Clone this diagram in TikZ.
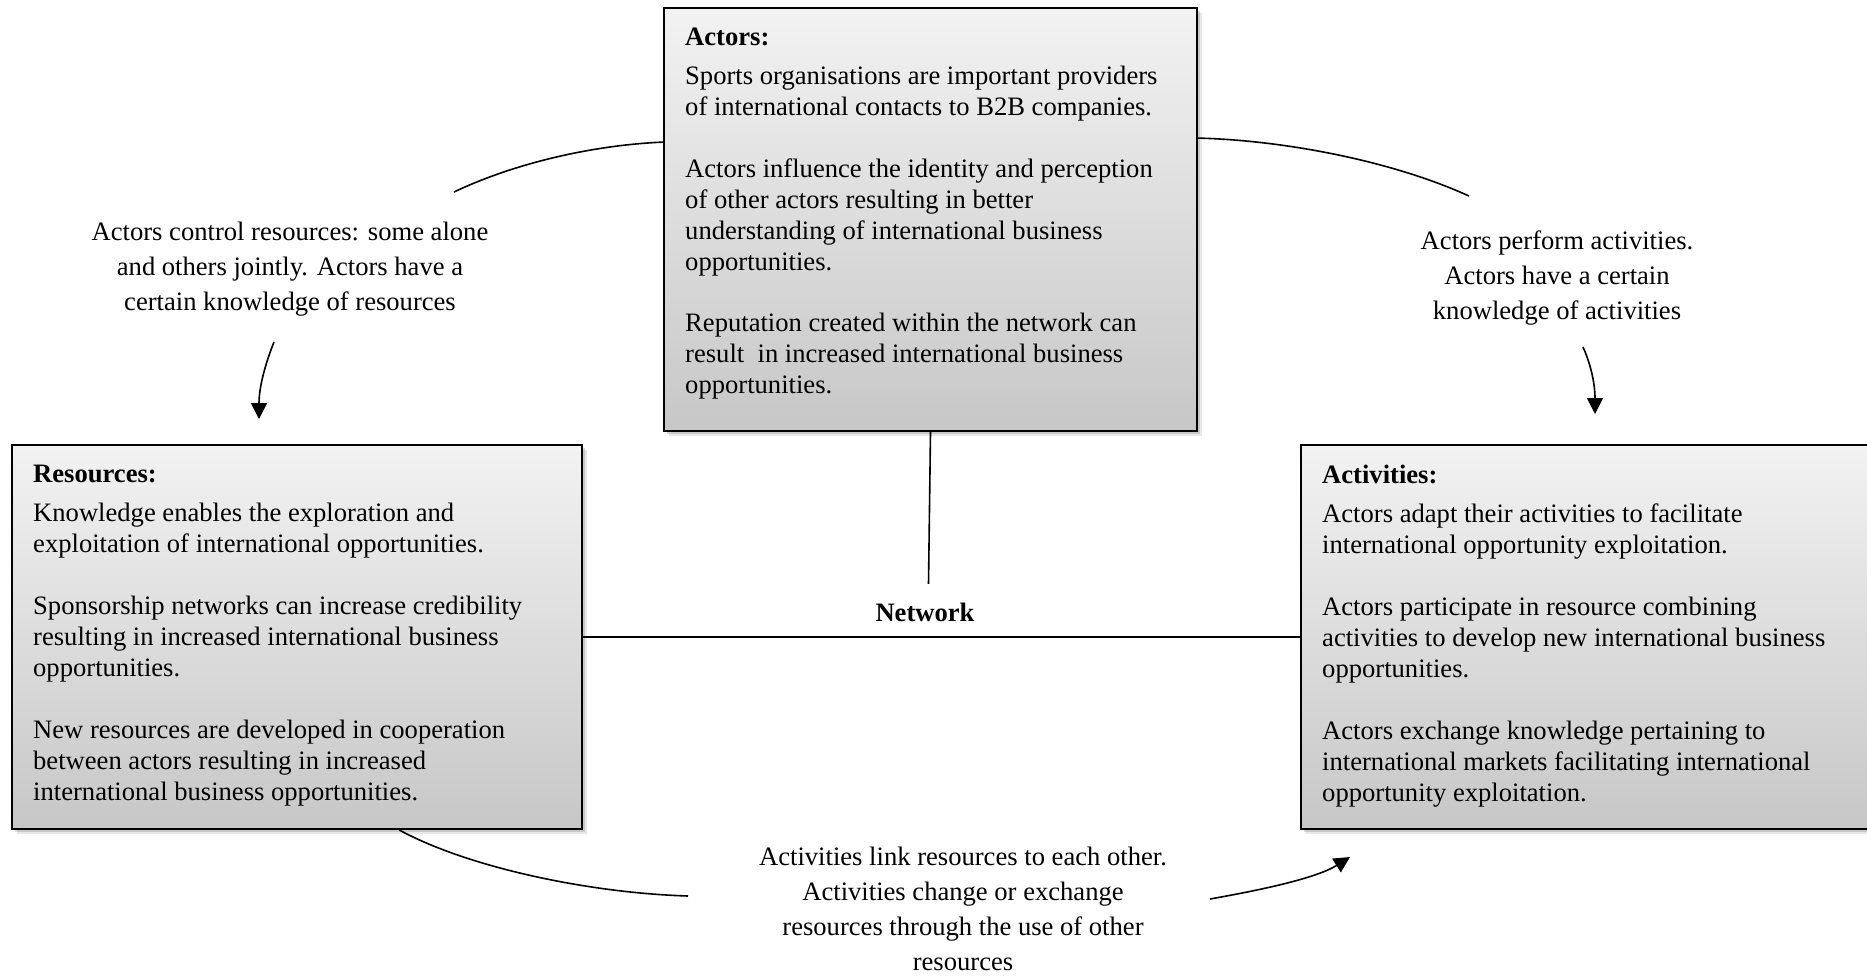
\documentclass[tikz,border=0pt]{standalone}
\usepackage{fontspec}
\setmainfont{Liberation Serif}
\usetikzlibrary{arrows.meta,shadows,calc}

\begin{document}
\begin{tikzpicture}[x=1bp,y=-1bp,
  panel/.style={rectangle, draw=black, line width=1.8bp, inner sep=0pt,
    top color=gray!10, bottom color=gray!44,
    drop shadow={shadow xshift=5bp, shadow yshift=-5bp, opacity=0.18, fill=gray},
    drop shadow={shadow xshift=3bp, shadow yshift=-3bp, opacity=0.3, fill=gray}},
  paneltext/.style={anchor=north west, inner sep=0pt, align=left,
    font=\fontsize{26.6bp}{31bp}\selectfont},
  note/.style={align=center, inner sep=0pt,
    font=\fontsize{26.6bp}{35bp}\selectfont},
  link/.style={line width=1.6bp},
  arr/.style={link, -{Triangle[length=16bp,width=16bp]}},
]
\useasboundingbox (0,0) rectangle (1867,975);

% the three panels
\node[panel, minimum width=533bp, minimum height=423bp] (actors) at (930.5,219.5) {};
\node[panel, minimum width=570bp, minimum height=384bp] (resources) at (297,637) {};
\node[panel, minimum width=570bp, minimum height=384bp] (activities) at (1586,637) {};

% panel texts
\node[paneltext] (actorsText) at (685,28) {\textbf{Actors:}\\[8bp]
Sports organisations are important providers\\
of international contacts to B2B companies.\\[31bp]
Actors influence the identity and perception\\
of other actors resulting in better\\
understanding of international business\\
opportunities.\\[30bp]
Reputation created within the network can\\
result\ \ in increased international business\\
opportunities.};

\node[paneltext] (resourcesText) at (33,465) {\textbf{Resources:}\\[8bp]
Knowledge enables the exploration and\\
exploitation of international opportunities.\\[31bp]
Sponsorship networks can increase credibility\\
resulting in increased international business\\
opportunities.\\[31bp]
New resources are developed in cooperation\\
between actors resulting in increased\\
international business opportunities.};

\node[paneltext] (activitiesText) at (1322,465) {\textbf{Activities:}\\[8bp]
Actors adapt their activities to facilitate\\
international opportunity exploitation.\\[31bp]
Actors participate in resource combining\\
activities to develop new international business\\
opportunities.\\[31bp]
Actors exchange knowledge pertaining to\\
international markets facilitating international\\
opportunity exploitation.};

% the network hub
\node[note, font=\fontsize{26.6bp}{31bp}\selectfont\bfseries] (net) at (925,612) {Network};
\draw[link] (actors.south) -- ++(-2,152);
\draw[link] (resources.east) -- (activities.west);

% relation labels
\node[note] (ctrl) at (290,269) {Actors control resources: some alone\\
and others jointly. Actors have a\\ certain knowledge of resources};
\node[note] (perf) at (1557,278) {Actors perform activities.\\
Actors have a certain\\ knowledge of activities};
\node[note, anchor=north] (link) at (963,847) {Activities link resources to each other.\\
Activities change or exchange\\ resources through the use of other\\ resources};

% free ends of the relation curves
\coordinate (tlEnd) at (454,192);
\coordinate (trEnd) at (1469,196);
\coordinate (lStart) at (274,342);
\coordinate (lTip) at (259,419);
\coordinate (rStart) at (1583,347);
\coordinate (rTip) at (1595,414);
\coordinate (blEnd) at (688,896);
\coordinate (brStart) at (1210,899);
\coordinate (brTip) at (1350,857);

% relation curves
\draw[link] ($(actors.north west)+(0,135)$) .. controls +(-70,3) and +(61,-29) .. (tlEnd);
\draw[link] ($(actors.north east)+(0,131)$) .. controls +(83,2) and +(-79,-36) .. (trEnd);
\draw[arr] (lStart) .. controls +(-8,20) and +(0,-33) .. (lTip);
\draw[arr] (rStart) .. controls +(8,18) and +(0,-30) .. (rTip);
\draw[link] ($(resources.south west)+(388,0)$) .. controls +(70,38) and +(-98,-3) .. (blEnd);
\draw[arr] (brStart) .. controls +(45,-8) and +(-35,22) .. (brTip);
\end{tikzpicture}
\end{document}
